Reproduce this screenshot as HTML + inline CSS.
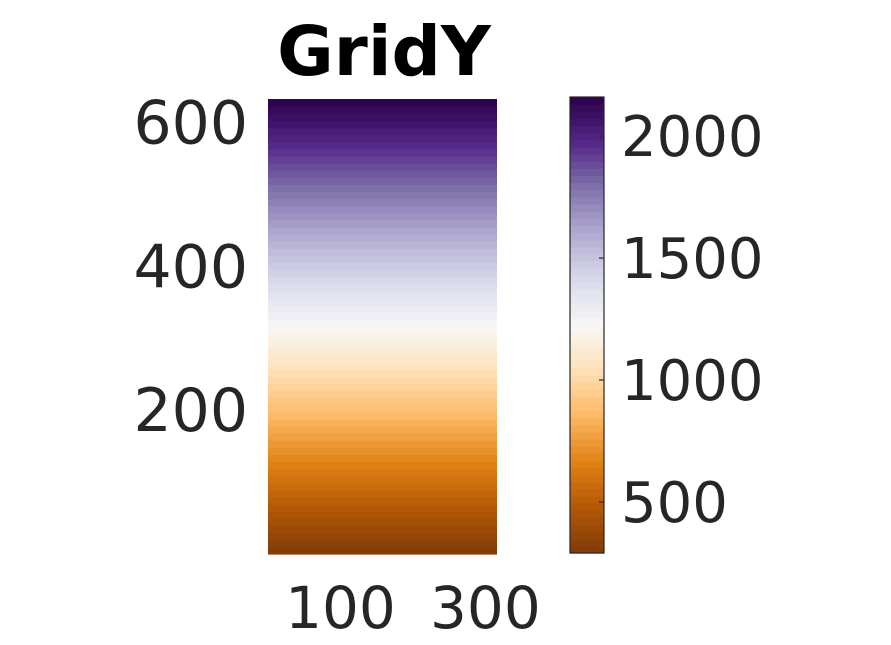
<!DOCTYPE html>
<html><head><meta charset="utf-8"><style>
html,body{margin:0;padding:0;background:#fff;}
svg{display:block;font-family:"DejaVu Sans","Liberation Sans",sans-serif;}
</style></head><body>
<svg id="chart" width="891" height="645" viewBox="0 0 891 645">
<text x="384" y="75" font-size="69" font-weight="bold" text-anchor="middle" fill="#000">GridY</text>
<g id="heat"></g>
<g id="yticks"></g>
<g id="xticks"></g>
<g id="cbar"></g>
<g id="cticks"></g>
</svg>
<script>
const rowValues=[305,334,363,393,422,451,480,509,539,568,597,626,655,685,714,743,772,801,831,860,889,918,947,977,1006,1035,1064,1093,1123,1152,1181,1210,1239,1269,1298,1327,1356,1385,1415,1444,1473,1502,1531,1561,1590,1619,1648,1677,1707,1736,1765,1794,1823,1853,1882,1911,1940,1969,1999,2028,2057,2086,2115,2145];
const yTicks=[200,400,600];
const xTicks=[100,300];
const cTicks=[500,1000,1500,2000];
const yRange=[0,633];
const xRange=[0,316];
const cRange=[291,2160];

const NS="http://www.w3.org/2000/svg";
const ax={l:268,r:497,t:99,b:554};
const cb={l:570,r:604,t:97,b:553};
const xs=v=>ax.l+(v-xRange[0])/(xRange[1]-xRange[0])*(ax.r-ax.l);
const ys=v=>ax.b-(v-yRange[0])/(yRange[1]-yRange[0])*(ax.b-ax.t);
const cs=v=>cb.b-(v-cRange[0])/(cRange[1]-cRange[0])*(cb.b-cb.t);
const stops=["#7f3b08","#b35806","#e08214","#fdb863","#fee0b6","#f7f7f7","#d8daeb","#b2abd2","#8073ac","#542788","#2d004b"];
function hex(h){return [1,3,5].map(i=>parseInt(h.substr(i,2),16));}
function cmap(v){let t=(v-cRange[0])/(cRange[1]-cRange[0]);t=Math.max(0,Math.min(1,t));
 const p=t*(stops.length-1);const i=Math.min(Math.floor(p),stops.length-2);const f=p-i;
 const a=hex(stops[i]),b=hex(stops[i+1]);
 return "rgb("+a.map((c,k)=>Math.round(c+(b[k]-c)*f)).join(",")+")";}
function mk(tag,attrs,parent){const e=document.createElementNS(NS,tag);for(const k in attrs)e.setAttribute(k,attrs[k]);parent.appendChild(e);return e;}

const heat=document.getElementById("heat");
const n=rowValues.length;const dy=(yRange[1]-yRange[0])/n;
rowValues.forEach((v,i)=>{
 const y0=ys(yRange[0]+i*dy),y1=ys(yRange[0]+(i+1)*dy);
 const r=mk("rect",{x:xs(xRange[0]),y:y1,width:xs(xRange[1])-xs(xRange[0]),height:y0-y1+0.6,fill:cmap(v)},heat);
 
 
});
const cbar=document.getElementById("cbar");
const dc=(cRange[1]-cRange[0])/n;
rowValues.forEach((v,i)=>{
 const c0=cRange[0]+i*dc,c1=c0+dc;
 const r=mk("rect",{x:cb.l,y:cs(c1),width:cb.r-cb.l,height:cs(c0)-cs(c1)+0.6,fill:cmap(v)},cbar);
 
 
});
const fr=mk("rect",{x:cb.l,y:cb.t,width:cb.r-cb.l,height:cb.b-cb.t,fill:"none",stroke:"#262626","stroke-width":1.2},cbar);



const yt=document.getElementById("yticks");
yTicks.forEach(v=>{
 const t=mk("text",{x:248,y:ys(v)+21,"font-size":60,"text-anchor":"end",fill:"#262626"},yt);t.textContent=v;
 
 
});
const xt=document.getElementById("xticks");
xTicks.forEach(v=>{
 const t=mk("text",{x:xs(v),y:628,"font-size":58,"text-anchor":"middle",fill:"#262626"},xt);t.textContent=v;
 
 
});
const ct=document.getElementById("cticks");
cTicks.forEach(v=>{
 const l=mk("line",{x1:cb.r-5,x2:cb.r,y1:cs(v),y2:cs(v),stroke:"#262626","stroke-width":1.2},ct);
 
 
 const t=mk("text",{x:621,y:cs(v)+20,"font-size":56,fill:"#262626"},ct);t.textContent=v;
 
 
});
</script>
</body></html>
